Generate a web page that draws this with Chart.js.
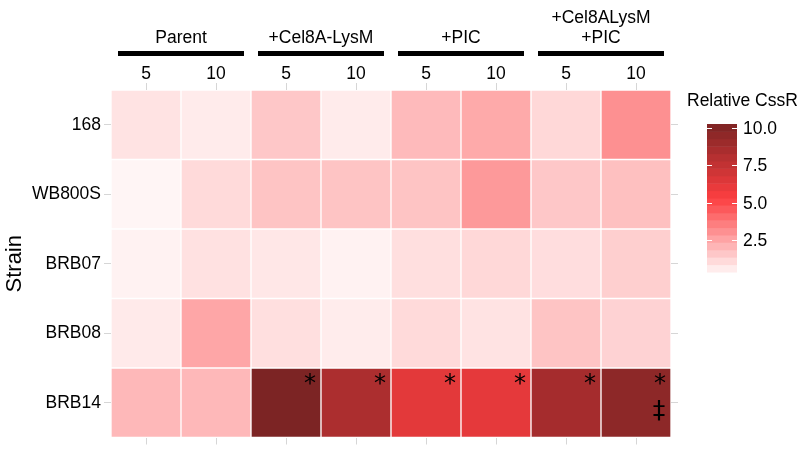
<!DOCTYPE html>
<html>
<head>
<meta charset="utf-8">
<script src="https://cdn.jsdelivr.net/npm/chart.js@4/dist/chart.umd.min.js"></script>
<style>
  body { margin: 0; background: #fff; }
  #wrap { width: 800px; height: 451px; position: relative; }
</style>
</head>
<body>
<div id="wrap"><canvas id="heat"></canvas></div>
<script>
// columns (time) and their treatment groups
const colLabels = ['5', '10', '5', '10', '5', '10', '5', '10'];
const groupLabels = [['Parent'], ['+Cel8A-LysM'], ['+PIC'], ['+Cel8ALysM', '+PIC']];
const strains = ['168', 'WB800S', 'BRB07', 'BRB08', 'BRB14'];

// relative CssR, one array per strain
const val168    = [0.85, 0.63, 1.6, 0.63, 1.95, 2.4, 1.15, 3.1];
const valWB800S = [0.36, 1.1, 1.7, 1.7, 1.7, 2.85, 1.6, 1.8];
const valBRB07  = [0.45, 0.9, 0.75, 0.45, 0.95, 1.15, 1.0, 1.4];
const valBRB08  = [0.65, 2.5, 0.95, 0.6, 1.1, 0.85, 1.7, 1.3];
const valBRB14  = [2.0, 2.0, 10.27, 8.4, 6.3, 6.2, 8.7, 9.6];
const rows = [val168, valWB800S, valBRB07, valBRB08, valBRB14];

const legendTicks = [2.5, 5.0, 7.5, 10.0];
// significance marks: [column, row]
const starCells = [[2, 4], [3, 4], [4, 4], [5, 4], [6, 4], [7, 4]];
const daggerCells = [[7, 4]];

const allVals = rows.flat();
const vMin = Math.min(...allVals);
const vMax = Math.max(...allVals);

const lowCol = [255, 245, 245];
const midCol = [252, 62, 64];
const highCol = [124, 36, 36];

function mix(a, b, t) {
    return a.map((c, i) => Math.round(c + (b[i] - c) * t));
}
function colorFor(v) {
    const mid = (vMin + vMax) / 2;
    let c;
    if (v <= mid) c = mix(lowCol, midCol, (v - vMin) / (mid - vMin));
    else c = mix(midCol, highCol, (v - mid) / (vMax - mid));
    return `rgb(${c[0]},${c[1]},${c[2]})`;
}

const FONT = 'Liberation Sans, Arial, sans-serif';
const tickGrey = '#d6d6d6';

const datasets = rows.map((vals, r) => ({
    label: strains[r],
    data: vals.map(() => [r - 0.5, r + 0.5]),
    backgroundColor: vals.map(colorFor),
    borderColor: 'rgba(255,255,255,0.55)',
    borderWidth: 1,
    borderSkipped: false,
    grouped: false,
    barPercentage: 1,
    categoryPercentage: 1
}));

const rowTicks = (scale) => { scale.ticks = strains.map((s, i) => ({ value: i })); };

// draw a glyph with its ink box centred on (x, y)
function glyphAt(ctx, ch, x, y) {
    const m = ctx.measureText(ch);
    const base = y + (m.actualBoundingBoxAscent - m.actualBoundingBoxDescent) / 2;
    ctx.fillText(ch, x, base);
}

const extrasPlugin = {
    id: 'extras',
    afterDraw(chart) {
        const ctx = chart.ctx;
        const xs = chart.scales.x;
        const ys = chart.scales.y;
        const colW = xs.getPixelForValue(1) - xs.getPixelForValue(0);
        const rowH = Math.abs(ys.getPixelForValue(1) - ys.getPixelForValue(0));
        ctx.save();

        // group headers with black bars
        groupLabels.forEach((lines, g) => {
            const left = xs.getPixelForValue(2 * g) - colW / 2 + 7;
            const right = xs.getPixelForValue(2 * g + 1) + colW / 2 - 7;
            ctx.fillStyle = '#000';
            ctx.fillRect(left, 51, right - left, 5);
            ctx.font = '17.5px ' + FONT;
            ctx.textAlign = 'center';
            ctx.textBaseline = 'middle';
            const cx = (left + right) / 2;
            lines.forEach((t, i) => {
                ctx.fillText(t, cx, 38 - (lines.length - 1 - i) * 20);
            });
        });

        // significance marks
        ctx.fillStyle = '#000';
        ctx.textAlign = 'center';
        ctx.textBaseline = 'alphabetic';
        ctx.font = '24px DejaVu Sans';
        starCells.forEach(([c, r]) => {
            const x = xs.getPixelForValue(c) + colW / 2 - 11;
            const y = ys.getPixelForValue(r) - rowH / 2 + 11;
            glyphAt(ctx, '*', x, y);
        });
        ctx.font = '25px DejaVu Sans';
        daggerCells.forEach(([c, r]) => {
            const x = xs.getPixelForValue(c) + colW / 2 - 12;
            const y = ys.getPixelForValue(r) + 8;
            glyphAt(ctx, '\u2021', x, y);
        });

        // colour bar legend
        const barL = 707, barR = 737, barT = 124, barB = 272;
        const yFor = (v) => barB - (v - vMin) / (vMax - vMin) * (barB - barT);
        const steps = 20;
        for (let i = 0; i < steps; i++) {
            const v0 = vMin + (vMax - vMin) * i / steps;
            const v1 = vMin + (vMax - vMin) * (i + 1) / steps;
            ctx.fillStyle = colorFor((v0 + v1) / 2);
            ctx.fillRect(barL, yFor(v1), barR - barL, yFor(v0) - yFor(v1) + 0.5);
        }
        ctx.strokeStyle = '#fff';
        ctx.lineWidth = 1;
        ctx.fillStyle = '#000';
        ctx.font = '17.5px ' + FONT;
        ctx.textAlign = 'left';
        ctx.textBaseline = 'middle';
        legendTicks.forEach(t => {
            const y = Math.round(yFor(t)) + 0.5;
            ctx.beginPath();
            ctx.moveTo(barL, y); ctx.lineTo(barL + 5, y);
            ctx.moveTo(barR - 5, y); ctx.lineTo(barR, y);
            ctx.stroke();
            ctx.fillText(t.toFixed(1), 743, y + 1);
        });
        ctx.fillText('Relative CssR', 687, 101);
        ctx.restore();
    }
};

new Chart(document.getElementById('heat'), {
    type: 'bar',
    data: { labels: colLabels, datasets: datasets },
    options: {
        responsive: true,
        maintainAspectRatio: false,
        animation: false,
        layout: { padding: { top: 0, right: 122, bottom: 0, left: 0 } },
        plugins: { legend: { display: false }, tooltip: { enabled: false } },
        scales: {
            x: {
                type: 'category',
                position: 'top',
                offset: true,
                grid: { display: true, offset: false, drawOnChartArea: false, drawTicks: true, tickLength: 7, color: tickGrey },
                border: { display: false },
                ticks: { color: '#000', padding: -2, maxRotation: 0, font: { family: FONT, size: 17.5 } },
                afterFit: (scale) => { scale.height = 90; }
            },
            x2: {
                type: 'category',
                labels: colLabels,
                position: 'bottom',
                offset: true,
                grid: { display: true, offset: false, drawOnChartArea: false, drawTicks: true, tickLength: 7, color: tickGrey },
                border: { display: false },
                ticks: { display: false },
                afterFit: (scale) => { scale.height = 13; }
            },
            y: {
                type: 'linear',
                position: 'left',
                min: -0.5,
                max: 4.5,
                reverse: true,
                afterBuildTicks: rowTicks,
                grid: { display: true, drawOnChartArea: false, drawTicks: true, tickLength: 7, color: tickGrey },
                border: { display: false },
                ticks: {
                    color: '#000',
                    padding: 3,
                    font: { family: FONT, size: 17.5 },
                    callback: (v) => strains[v]
                },
                title: { display: true, text: 'Strain', color: '#000', font: { family: FONT, size: 22 }, padding: { top: 2, bottom: 0 } },
                afterFit: (scale) => { scale.width = 111; }
            },
            y2: {
                type: 'linear',
                position: 'right',
                min: -0.5,
                max: 4.5,
                reverse: true,
                afterBuildTicks: rowTicks,
                grid: { display: true, drawOnChartArea: false, drawTicks: true, tickLength: 7, color: tickGrey },
                border: { display: false },
                ticks: { display: false },
                afterFit: (scale) => { scale.width = 7; }
            }
        }
    },
    plugins: [extrasPlugin]
});
</script>
</body>
</html>
